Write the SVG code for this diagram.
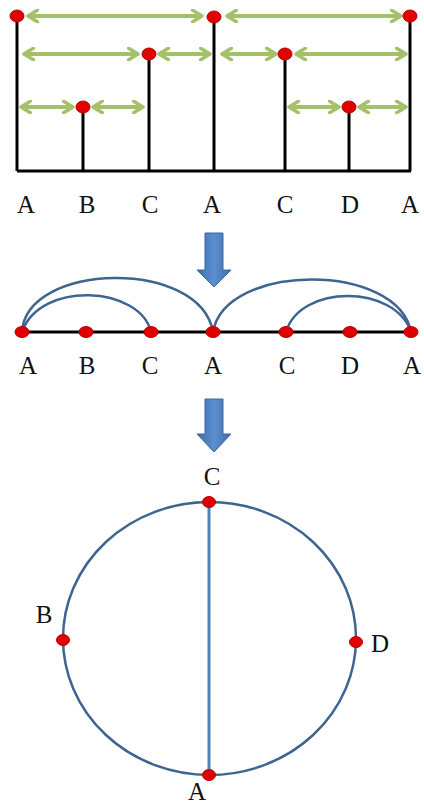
<svg xmlns="http://www.w3.org/2000/svg" width="424" height="805" viewBox="0 0 424 805">
<defs>
<marker id="ga" viewBox="0 0 10 10" refX="8" refY="5" markerWidth="3.6" markerHeight="3.6" orient="auto-start-reverse" markerUnits="strokeWidth">
<path d="M1.5,1 L8,5 L1.5,9" fill="none" stroke="#9bbb59" stroke-width="2.4" stroke-linecap="round" stroke-linejoin="round"/>
</marker>
<linearGradient id="bg" x1="0" y1="0" x2="1" y2="0">
<stop offset="0" stop-color="#3d6ea8"/>
<stop offset="0.5" stop-color="#5b8fd0"/>
<stop offset="1" stop-color="#3d6ea8"/>
</linearGradient>
</defs>
<style>
.lbl{font-family:"Liberation Serif","Times New Roman",serif;font-size:25px;fill:#111;text-anchor:middle}
.stem{stroke:#000;stroke-width:3;fill:none}
.g{stroke:#9bbb59;stroke-width:4;fill:none;marker-start:url(#ga);marker-end:url(#ga);opacity:0.9}
.dot{fill:#e00000;stroke:#c00000;stroke-width:1}
.arc{stroke:#3c6591;stroke-width:2.5;fill:none}
.barrow{fill:url(#bg);stroke:#3a67a0;stroke-width:1}
</style>
<rect width="424" height="805" fill="#fff"/>

<g id="tree">
<g id="tree-lines">
<path class="stem" d="M17,171 H411"/>
<path class="stem" d="M17,16 V171"/>
<path class="stem" d="M83,107 V171"/>
<path class="stem" d="M149,54 V171"/>
<path class="stem" d="M214,17 V171"/>
<path class="stem" d="M285,54 V171"/>
<path class="stem" d="M349,107 V171"/>
<path class="stem" d="M410,16 V171"/>
</g>
<g id="tree-arrows">
<line class="g" x1="28" y1="16" x2="202" y2="16"/>
<line class="g" x1="227" y1="16" x2="401" y2="16"/>
<line class="g" x1="24" y1="54" x2="138" y2="54"/>
<line class="g" x1="159" y1="54" x2="210" y2="54"/>
<line class="g" x1="222" y1="54" x2="276" y2="54"/>
<line class="g" x1="296" y1="54" x2="406" y2="54"/>
<line class="g" x1="21" y1="107" x2="73" y2="107"/>
<line class="g" x1="93" y1="107" x2="143" y2="107"/>
<line class="g" x1="289" y1="107" x2="339" y2="107"/>
<line class="g" x1="359" y1="107" x2="406" y2="107"/>
</g>
<g id="tree-dots">
<ellipse class="dot" cx="17" cy="16" rx="7" ry="6"/>
<ellipse class="dot" cx="214" cy="17" rx="7" ry="6"/>
<ellipse class="dot" cx="410" cy="16" rx="7" ry="6"/>
<ellipse class="dot" cx="149" cy="54" rx="7" ry="6"/>
<ellipse class="dot" cx="285" cy="54" rx="7" ry="6"/>
<ellipse class="dot" cx="83" cy="107" rx="7" ry="6"/>
<ellipse class="dot" cx="349" cy="107" rx="7" ry="6"/>
</g>
<g id="tree-labels">
<text class="lbl" x="26" y="213">A</text>
<text class="lbl" x="87" y="213">B</text>
<text class="lbl" x="150" y="213">C</text>
<text class="lbl" x="212" y="213">A</text>
<text class="lbl" x="285" y="213">C</text>
<text class="lbl" x="350" y="213">D</text>
<text class="lbl" x="410" y="213">A</text>
</g>
</g>

<g id="arrow1">
<path class="barrow" d="M205,233 H223 V270 H231 L214,287 L197,270 H205 Z"/>
</g>

<g id="arcs">
<g id="arc-lines">
<path class="stem" d="M19,332 H411"/>
<path class="arc" d="M22,332 C26,262 200,258 213,332"/>
<path class="arc" d="M22,332 C40,280 140,286 151,332"/>
<path class="arc" d="M213,332 C225,262 398,262 411,332"/>
<path class="arc" d="M286,332 C300,284 395,284 411,332"/>
</g>
<g id="arc-dots">
<ellipse class="dot" cx="22" cy="332" rx="7" ry="5.5"/>
<ellipse class="dot" cx="86" cy="332" rx="7" ry="5.5"/>
<ellipse class="dot" cx="151" cy="332" rx="7" ry="5.5"/>
<ellipse class="dot" cx="213" cy="332" rx="7" ry="5.5"/>
<ellipse class="dot" cx="286" cy="332" rx="7" ry="5.5"/>
<ellipse class="dot" cx="350" cy="332" rx="7" ry="5.5"/>
<ellipse class="dot" cx="411" cy="332" rx="7" ry="5.5"/>
</g>
<g id="arc-labels">
<text class="lbl" x="28" y="374">A</text>
<text class="lbl" x="87" y="374">B</text>
<text class="lbl" x="150" y="374">C</text>
<text class="lbl" x="213" y="374">A</text>
<text class="lbl" x="287" y="374">C</text>
<text class="lbl" x="350" y="374">D</text>
<text class="lbl" x="412" y="374">A</text>
</g>
</g>

<g id="arrow2">
<path class="barrow" d="M205,399 H223 V434 H231 L214,452 L197,434 H205 Z"/>
</g>

<g id="circle">
<ellipse class="arc" cx="209.5" cy="638.5" rx="146.5" ry="136.5"/>
<line x1="209" y1="502" x2="209" y2="775" stroke="#4f81bd" stroke-width="3"/>
<ellipse class="dot" cx="209" cy="502" rx="6.5" ry="5.5"/>
<ellipse class="dot" cx="209" cy="775" rx="6.5" ry="5.5"/>
<ellipse class="dot" cx="63" cy="640" rx="6.5" ry="5.5"/>
<ellipse class="dot" cx="356" cy="642" rx="6.5" ry="5.5"/>
<text class="lbl" x="212" y="485">C</text>
<text class="lbl" x="44" y="623">B</text>
<text class="lbl" x="380" y="652">D</text>
<text class="lbl" x="197" y="800">A</text>
</g>
</svg>
